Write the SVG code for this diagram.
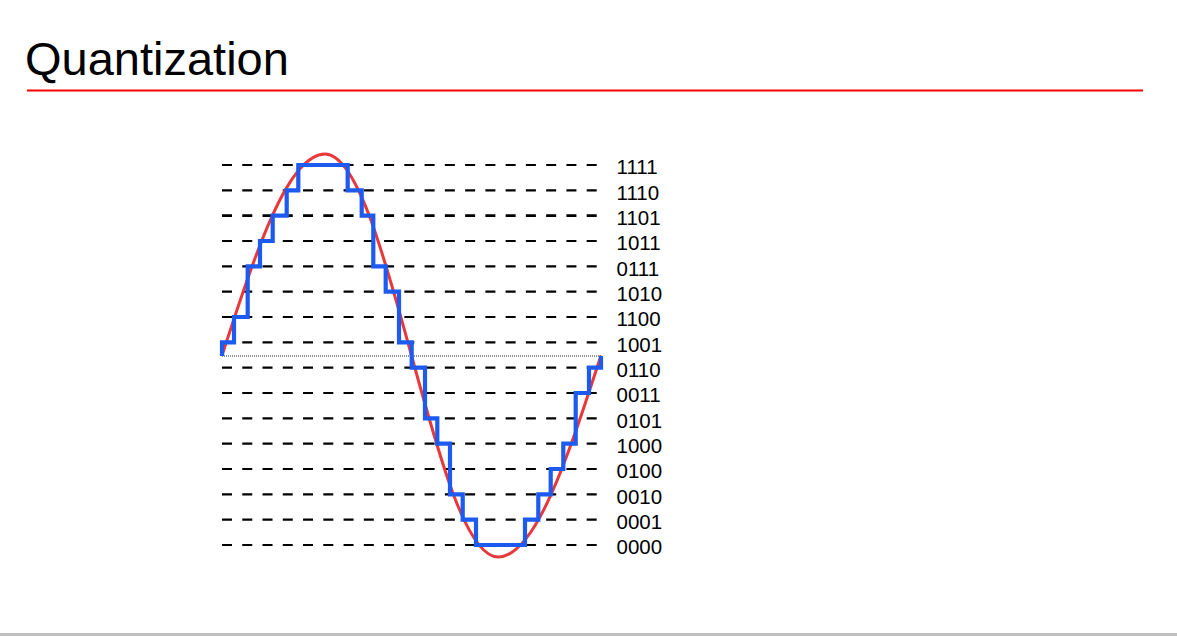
<svg xmlns="http://www.w3.org/2000/svg" width="1177" height="636" viewBox="0 0 1177 636">
<style>
.lvl{stroke:#000;stroke-width:2.2;stroke-dasharray:10 10.26;fill:none}
.lab{font-family:"Liberation Sans",Arial,sans-serif;font-size:20.5px;fill:#000}
</style>
<rect width="1177" height="636" fill="#fff"/>
<g id="title">
<text x="25" y="75" font-family="Liberation Sans, Arial, sans-serif" font-size="47" fill="#000">Quantization</text>
<line x1="27" y1="90.5" x2="1143" y2="90.5" stroke="#ff0000" stroke-width="2"/>
</g>
<g id="levels">
<line class="lvl" x1="222" y1="165" x2="597" y2="165"/>
<line class="lvl" x1="222" y1="190.33" x2="597" y2="190.33"/>
<line class="lvl" x1="222" y1="215.67" x2="597" y2="215.67" style="stroke-width:2.8"/>
<line class="lvl" x1="222" y1="241" x2="597" y2="241"/>
<line class="lvl" x1="222" y1="266.33" x2="597" y2="266.33"/>
<line class="lvl" x1="222" y1="291.67" x2="597" y2="291.67"/>
<line class="lvl" x1="222" y1="317" x2="597" y2="317"/>
<line class="lvl" x1="222" y1="342.33" x2="597" y2="342.33"/>
<line class="lvl" x1="222" y1="367.67" x2="597" y2="367.67"/>
<line class="lvl" x1="222" y1="393" x2="597" y2="393"/>
<line class="lvl" x1="222" y1="418.33" x2="597" y2="418.33"/>
<line class="lvl" x1="222" y1="443.67" x2="597" y2="443.67"/>
<line class="lvl" x1="222" y1="469" x2="597" y2="469"/>
<line class="lvl" x1="222" y1="494.33" x2="597" y2="494.33"/>
<line class="lvl" x1="222" y1="519.67" x2="597" y2="519.67"/>
<line class="lvl" x1="222" y1="545" x2="597" y2="545"/>
<line x1="222" y1="356" x2="601" y2="356" stroke="#222" stroke-width="1" stroke-dasharray="1 1"/>
</g>
<g id="labels">
<text class="lab" x="616.5" y="174.3">1111</text>
<text class="lab" x="616.5" y="199.6">1110</text>
<text class="lab" x="616.5" y="225">1101</text>
<text class="lab" x="616.5" y="250.3">1011</text>
<text class="lab" x="616.5" y="275.6">0111</text>
<text class="lab" x="616.5" y="301">1010</text>
<text class="lab" x="616.5" y="326.3">1100</text>
<text class="lab" x="616.5" y="351.6">1001</text>
<text class="lab" x="616.5" y="377">0110</text>
<text class="lab" x="616.5" y="402.3">0011</text>
<text class="lab" x="616.5" y="427.6">0101</text>
<text class="lab" x="616.5" y="453">1000</text>
<text class="lab" x="616.5" y="478.3">0100</text>
<text class="lab" x="616.5" y="503.6">0010</text>
<text class="lab" x="616.5" y="529">0001</text>
<text class="lab" x="616.5" y="554.3">0000</text>
</g>
<g id="signal">
<path d="M222,355.5 C255.6,252.3 287.7,154 325,154 C356.3,154 383.3,252.3 411.5,355.5 C439.7,458.7 466.7,557 498,557 C535.3,557 567.4,458.7 601,355.5" fill="none" stroke="#e8383a" stroke-width="3"/>
</g>
<g id="quantized">
<path d="M222,356 V342.3 H234 V317 H247.7 V266.3 H260 V241 H272.7 V215.7 H286.7 V190.3 H298.3 V165 H347.7 V190.3 H361.7 V215.7 H373.3 V266.3 H385.7 V291.7 H399 V342.3 H411.7 V367.7 H425 V418.3 H437.3 V443.7 H450 V494.3 H462.7 V519.7 H476 V545 H525 V519.7 H538.3 V494.3 H550.7 V469 H563.3 V443.7 H575.7 V393 H589 V367.7 H601 V356" fill="none" stroke="#1c5af0" stroke-width="4.2" stroke-linejoin="miter"/>
</g>
<rect id="footer" x="0" y="633" width="1177" height="3" fill="#c0c0c0"/>
</svg>
